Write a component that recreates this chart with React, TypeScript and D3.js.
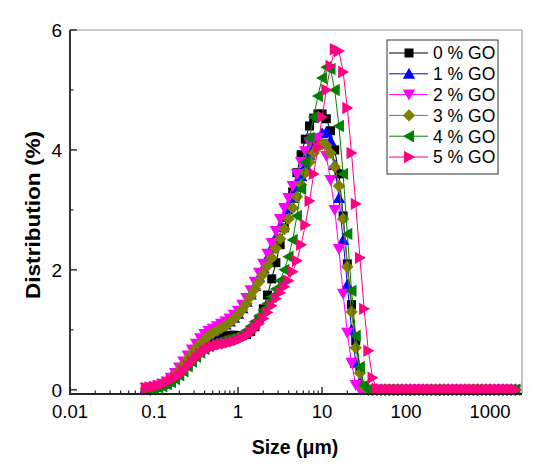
import { useEffect, useRef } from "react";
import * as d3 from "d3";

// particle size bins (um), laser diffraction classes
const sizes = [
  0.08, 0.089, 0.1, 0.112, 0.126, 0.142, 0.159, 0.178, 0.2, 0.224,
  0.252, 0.283, 0.317, 0.356, 0.399, 0.448, 0.502, 0.564, 0.632, 0.71,
  0.796, 0.893, 1.002, 1.125, 1.262, 1.416, 1.589, 1.783, 2.0, 2.244,
  2.518, 2.825, 3.17, 3.557, 3.991, 4.477, 5.024, 5.637, 6.325, 7.096,
  7.962, 8.934, 10.024, 11.247, 12.619, 14.159, 15.887, 17.825, 20.0, 22.44,
  25.179, 28.251, 31.698, 35.566, 39.905, 44.774, 50.238, 56.368, 63.246, 70.963,
  79.621, 89.337, 100.237, 112.468, 126.191, 141.589, 158.866, 178.25, 200.0, 224.404,
  251.785, 282.508, 316.979, 355.656, 399.052, 447.744, 502.377, 563.677, 632.456, 709.627,
  796.214, 893.367, 1002.374, 1124.683, 1261.915, 1415.892, 1588.656, 1782.502, 2000.0,
];

const go0 = [
  0.01, 0.02, 0.03, 0.05, 0.07, 0.1, 0.14, 0.19, 0.25, 0.32,
  0.4, 0.48, 0.56, 0.63, 0.7, 0.76, 0.81, 0.85, 0.88, 0.9,
  0.91, 0.91, 0.9, 0.9, 0.92, 0.97, 1.05, 1.18, 1.35, 1.58,
  1.85, 2.12, 2.42, 2.7, 3.0, 3.3, 3.62, 3.92, 4.18, 4.4,
  4.53, 4.6, 4.6, 4.52, 4.32, 4.0, 3.6, 2.9, 2.1, 1.42,
  0.82, 0.35, 0.06, 0, 0, 0, 0, 0, 0, 0,
  0, 0, 0, 0, 0, 0, 0, 0, 0, 0,
  0, 0, 0, 0, 0, 0, 0, 0, 0, 0,
  0, 0, 0, 0, 0, 0, 0, 0, 0,
];

const go1 = [
  0.03, 0.04, 0.05, 0.07, 0.1, 0.14, 0.2, 0.27, 0.35, 0.44,
  0.53, 0.62, 0.71, 0.79, 0.86, 0.92, 0.97, 1.01, 1.05, 1.09,
  1.14, 1.2, 1.27, 1.36, 1.47, 1.59, 1.73, 1.88, 2.03, 2.2,
  2.37, 2.55, 2.72, 2.88, 3.03, 3.2, 3.38, 3.56, 3.75, 3.92,
  4.08, 4.2, 4.28, 4.3, 4.15, 3.75, 3.2, 2.5, 1.75, 1.0,
  0.45, 0.12, 0.01, 0, 0, 0, 0, 0, 0, 0,
  0, 0, 0, 0, 0, 0, 0, 0, 0, 0,
  0, 0, 0, 0, 0, 0, 0, 0, 0, 0,
  0, 0, 0, 0, 0, 0, 0, 0, 0,
];

const go2 = [
  0.03, 0.04, 0.05, 0.07, 0.1, 0.14, 0.2, 0.28, 0.37, 0.47,
  0.57, 0.67, 0.77, 0.86, 0.93, 0.98, 1.02, 1.06, 1.1, 1.14,
  1.19, 1.25, 1.32, 1.42, 1.53, 1.66, 1.8, 1.95, 2.1, 2.27,
  2.45, 2.65, 2.85, 3.03, 3.2, 3.4, 3.6, 3.8, 3.98, 4.12,
  4.2, 4.2, 4.1, 3.9, 3.5, 3.0, 2.35, 1.6, 0.95, 0.45,
  0.08, 0, 0, 0, 0, 0, 0, 0, 0, 0,
  0, 0, 0, 0, 0, 0, 0, 0, 0, 0,
  0, 0, 0, 0, 0, 0, 0, 0, 0, 0,
  0, 0, 0, 0, 0, 0, 0, 0, 0,
];

const go3 = [
  0.02, 0.03, 0.04, 0.06, 0.09, 0.13, 0.18, 0.25, 0.33, 0.42,
  0.51, 0.6, 0.69, 0.77, 0.84, 0.9, 0.95, 0.99, 1.03, 1.07,
  1.12, 1.18, 1.25, 1.34, 1.44, 1.56, 1.68, 1.8, 1.93, 2.07,
  2.2, 2.36, 2.52, 2.68, 2.85, 3.03, 3.22, 3.42, 3.62, 3.8,
  3.95, 4.05, 4.1, 4.08, 3.95, 3.72, 3.4, 2.85, 2.05, 1.3,
  0.7, 0.28, 0.05, 0, 0, 0, 0, 0, 0, 0,
  0, 0, 0, 0, 0, 0, 0, 0, 0, 0,
  0, 0, 0, 0, 0, 0, 0, 0, 0, 0,
  0, 0, 0, 0, 0, 0, 0, 0, 0,
];

const go4 = [
  0.0, 0.01, 0.02, 0.04, 0.06, 0.09, 0.13, 0.18, 0.24, 0.31,
  0.39, 0.47, 0.55, 0.62, 0.68, 0.73, 0.77, 0.79, 0.81, 0.83,
  0.85, 0.87, 0.9, 0.94, 0.99, 1.06, 1.14, 1.23, 1.33, 1.44,
  1.55, 1.68, 1.82, 2.0, 2.22, 2.5, 2.9, 3.35, 3.8, 4.2,
  4.55, 4.9, 5.2, 5.38, 5.35, 5.0, 4.4, 3.6, 2.6, 1.65,
  0.9, 0.38, 0.07, 0, 0, 0, 0, 0, 0, 0,
  0, 0, 0, 0, 0, 0, 0, 0, 0, 0,
  0, 0, 0, 0, 0, 0, 0, 0, 0, 0,
  0, 0, 0, 0, 0, 0, 0, 0, 0,
];

const go5 = [
  0.03, 0.04, 0.05, 0.07, 0.09, 0.12, 0.16, 0.2, 0.25, 0.32,
  0.4, 0.47, 0.54, 0.6, 0.65, 0.69, 0.72, 0.74, 0.76, 0.77,
  0.79, 0.81, 0.83, 0.86, 0.9, 0.96, 1.03, 1.1, 1.19, 1.29,
  1.4, 1.52, 1.62, 1.72, 1.82, 1.97, 2.15, 2.42, 2.75, 3.15,
  3.6, 4.05, 4.55, 5.0, 5.4, 5.68, 5.65, 5.3, 4.7, 3.95,
  3.1, 2.2, 1.35, 0.65, 0.2, 0.02, 0, 0, 0, 0,
  0, 0, 0, 0, 0, 0, 0, 0, 0, 0,
  0, 0, 0, 0, 0, 0, 0, 0, 0, 0,
  0, 0, 0, 0, 0, 0, 0, 0, 0,
];

const labels = ["0 % GO", "1 % GO", "2 % GO", "3 % GO", "4 % GO", "5 % GO"];
const colors = ["#000000", "#0000ff", "#ff00ff", "#808000", "#008000", "#ff0080"];
const shapes = ["square", "up", "down", "diamond", "left", "right"];

const xTicks = [0.01, 0.1, 1, 10, 100, 1000];
const xTickLabels = ["0.01", "0.1", "1", "10", "100", "1000"];
const yTicks = [0, 2, 4, 6];
const yMinor = [1, 3, 5];

function markerPath(shape: string) {
  switch (shape) {
    case "square":
      return "M-4.5,-4.5H4.5V4.5H-4.5Z";
    case "up":
      return "M0,-6L6.2,5H-6.2Z";
    case "down":
      return "M0,6L6.2,-5H-6.2Z";
    case "diamond":
      return "M0,-6.2L6.2,0L0,6.2L-6.2,0Z";
    case "left":
      return "M-6,0L5,-6.2V6.2Z";
    default:
      return "M6,0L-5,-6.2V6.2Z";
  }
}

const App = () => {
  const ref = useRef<SVGSVGElement>(null);

  useEffect(() => {
    const svg = d3.select(ref.current);
    svg.selectAll("*").remove();

    const left = 70, right = 522, top = 30, bottom = 394;
    const font = "Arial, 'Liberation Sans', sans-serif";

    const x = d3.scaleLog().domain([0.01, 2400]).range([left, right]);
    const y = d3.scaleLinear().domain([-0.07, 6]).range([bottom, top]);

    // top / right frame
    svg.append("path")
      .attr("d", `M${left},${top}H${right}V${bottom}`)
      .attr("fill", "none")
      .attr("stroke", "#9a9a9a")
      .attr("stroke-width", 1.2);

    // ticks (inward)
    const minor = x.ticks().filter((t) => !xTicks.some((m) => Math.abs(m - t) / m < 1e-6));
    svg.append("g")
      .selectAll("line")
      .data(minor)
      .join("line")
      .attr("x1", (d) => x(d)).attr("x2", (d) => x(d))
      .attr("y1", bottom).attr("y2", bottom - 3.5)
      .attr("stroke", "#222").attr("stroke-width", 1.2);
    svg.append("g")
      .selectAll("line")
      .data(xTicks)
      .join("line")
      .attr("x1", (d) => x(d)).attr("x2", (d) => x(d))
      .attr("y1", bottom).attr("y2", bottom - 7)
      .attr("stroke", "#222").attr("stroke-width", 1.4);
    svg.append("g")
      .selectAll("line")
      .data(yTicks)
      .join("line")
      .attr("x1", left).attr("x2", left + 7)
      .attr("y1", (d) => y(d)).attr("y2", (d) => y(d))
      .attr("stroke", "#222").attr("stroke-width", 1.4);
    svg.append("g")
      .selectAll("line")
      .data(yMinor)
      .join("line")
      .attr("x1", left).attr("x2", left + 3.5)
      .attr("y1", (d) => y(d)).attr("y2", (d) => y(d))
      .attr("stroke", "#222").attr("stroke-width", 1.2);

    // series
    const all = [go0, go1, go2, go3, go4, go5];
    const line = d3.line<number>()
      .x((_, i) => x(sizes[i]))
      .y((d) => y(d));

    all.forEach((vals, k) => {
      const g = svg.append("g");
      g.append("path")
        .attr("d", line(vals))
        .attr("fill", "none")
        .attr("stroke", colors[k])
        .attr("stroke-width", 1);
      g.selectAll("path.m")
        .data(vals)
        .join("path")
        .attr("class", "m")
        .attr("d", markerPath(shapes[k]))
        .attr("transform", (d, i) => `translate(${x(sizes[i])},${y(d)})`)
        .attr("fill", colors[k]);
    });

    // left / bottom axis lines
    svg.append("path")
      .attr("d", `M${left},${top}V${bottom}H${right}`)
      .attr("fill", "none")
      .attr("stroke", "#222")
      .attr("stroke-width", 1.8);

    // tick labels
    svg.append("g")
      .selectAll("text")
      .data(xTicks)
      .join("text")
      .attr("x", (d) => x(d))
      .attr("y", 418)
      .attr("text-anchor", "middle")
      .attr("font-family", font)
      .attr("font-size", 18.5)
      .text((_, i) => xTickLabels[i]);
    svg.append("g")
      .selectAll("text")
      .data(yTicks)
      .join("text")
      .attr("x", 62)
      .attr("y", (d) => y(d))
      .attr("dy", "0.36em")
      .attr("text-anchor", "end")
      .attr("font-family", font)
      .attr("font-size", 19)
      .text((d) => d);

    // axis titles
    svg.append("text")
      .attr("x", 295)
      .attr("y", 454)
      .attr("text-anchor", "middle")
      .attr("font-family", font)
      .attr("font-weight", "bold")
      .attr("font-size", 19.5)
      .text("Size (\u03bcm)");
    svg.append("text")
      .attr("transform", "translate(40,215) rotate(-90)")
      .attr("text-anchor", "middle")
      .attr("font-family", font)
      .attr("font-weight", "bold")
      .attr("font-size", 21)
      .attr("textLength", 168)
      .attr("lengthAdjust", "spacingAndGlyphs")
      .text("Distribution (%)");

    // legend
    const lg = svg.append("g");
    lg.append("rect")
      .attr("x", 387).attr("y", 40)
      .attr("width", 111).attr("height", 134)
      .attr("fill", "#fff")
      .attr("stroke", "#333")
      .attr("stroke-width", 1);
    labels.forEach((name, k) => {
      const ly = 53 + k * 20.8;
      lg.append("line")
        .attr("x1", 389).attr("x2", 428)
        .attr("y1", ly).attr("y2", ly)
        .attr("stroke", colors[k]).attr("stroke-width", 1);
      lg.append("path")
        .attr("d", markerPath(shapes[k]))
        .attr("transform", `translate(409,${ly})`)
        .attr("fill", colors[k]);
      lg.append("text")
        .attr("x", 433)
        .attr("y", ly)
        .attr("dy", "0.36em")
        .attr("font-family", font)
        .attr("font-size", 17.5)
        .text(name);
    });
  }, []);

  return (
    <svg
      ref={ref}
      width={550}
      height={472}
      style={{ position: "absolute", left: 0, top: 0, background: "#fff" }}
    />
  );
};

export default App;
